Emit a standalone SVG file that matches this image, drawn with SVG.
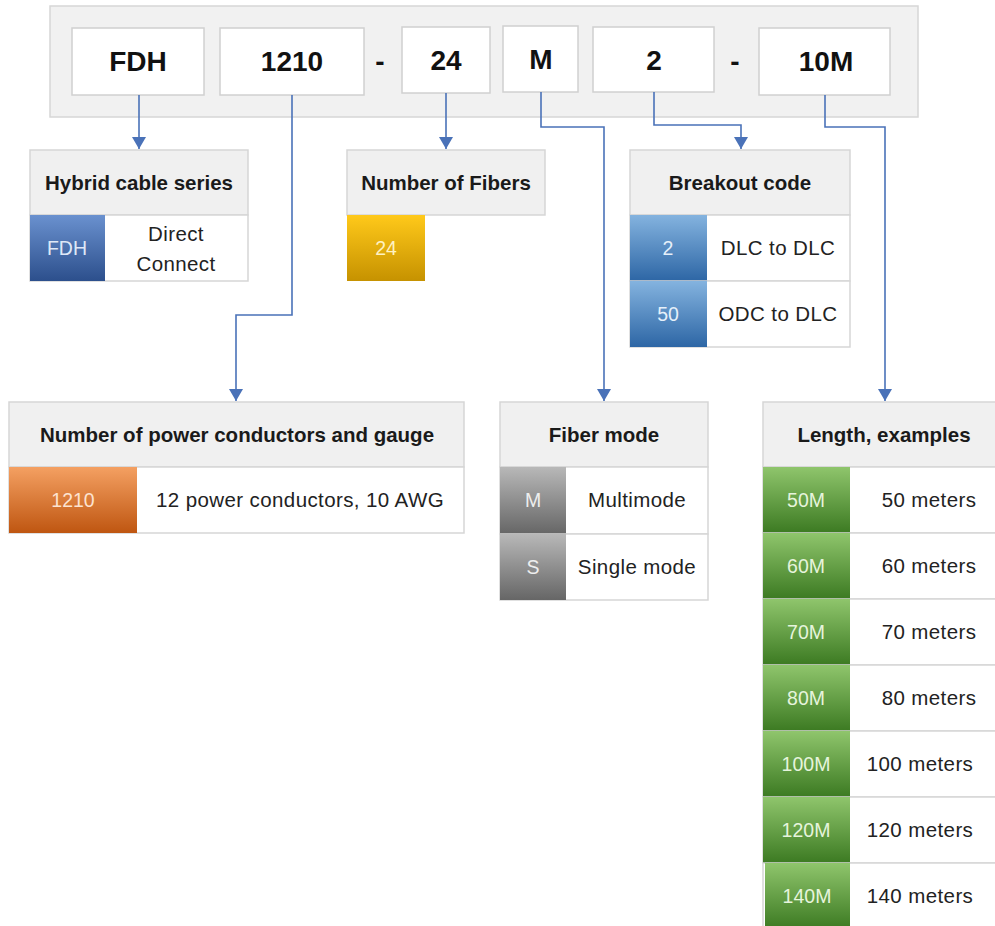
<svg xmlns="http://www.w3.org/2000/svg" width="995" height="926" viewBox="0 0 995 926">
<defs>
<style>
.bg{fill:#ffffff}
.outer{fill:#f1f1f1;stroke:#d6d6d6;stroke-width:1.5}
.code{fill:#ffffff;stroke:#d0d0d0;stroke-width:1.5}
.codet{font-family:"Liberation Sans",Arial,sans-serif;font-weight:bold;font-size:28px;fill:#111;text-anchor:middle}
.hdr{fill:#f0f0f0;stroke:#d6d6d6;stroke-width:1.5}
.hdrt{font-family:"Liberation Sans",Arial,sans-serif;font-weight:bold;font-size:20.5px;fill:#1a1a1a;text-anchor:middle}
.row{fill:#ffffff;stroke:#d6d6d6;stroke-width:1.5}
.rowt{font-family:"Liberation Sans",Arial,sans-serif;font-size:20.5px;letter-spacing:0.4px;fill:#222;text-anchor:middle}
.cellt{font-family:"Liberation Sans",Arial,sans-serif;font-size:19.5px;text-anchor:middle}
.conn{fill:none;stroke:#4a72b8;stroke-width:1.6}
</style>
<linearGradient id="gBlueDark" x1="0" y1="0" x2="0" y2="1"><stop offset="0" stop-color="#6a91cf"/><stop offset="1" stop-color="#2c4f8c"/></linearGradient>
<linearGradient id="gGold" x1="0" y1="0" x2="0" y2="1"><stop offset="0" stop-color="#ffc91a"/><stop offset="1" stop-color="#c69200"/></linearGradient>
<linearGradient id="gBlue" x1="0" y1="0" x2="0" y2="1"><stop offset="0" stop-color="#84b3df"/><stop offset="1" stop-color="#2d66a5"/></linearGradient>
<linearGradient id="gOrange" x1="0" y1="0" x2="0" y2="1"><stop offset="0" stop-color="#f4a062"/><stop offset="1" stop-color="#bf5611"/></linearGradient>
<linearGradient id="gGray" x1="0" y1="0" x2="0" y2="1"><stop offset="0" stop-color="#b8b8b8"/><stop offset="1" stop-color="#666666"/></linearGradient>
<linearGradient id="gGreen" x1="0" y1="0" x2="0" y2="1"><stop offset="0" stop-color="#8fc56c"/><stop offset="1" stop-color="#3c7a22"/></linearGradient>
<marker id="arr" markerUnits="userSpaceOnUse" markerWidth="14" markerHeight="14" refX="12" refY="7" orient="auto">
<path d="M0,0 L12,7 L0,14 Z" fill="#4a72b8"/>
</marker>
</defs>
<rect class="bg" x="0" y="0" width="995" height="926"/>

<g id="code">
<rect class="outer" x="50" y="6" width="868" height="111"/>
<rect class="code" x="72" y="28" width="132" height="67"/>
<text class="codet" x="138" y="71">FDH</text>
<rect class="code" x="220" y="28" width="144" height="67"/>
<text class="codet" x="292" y="71">1210</text>
<text class="codet" x="380" y="71">-</text>
<rect class="code" x="402" y="27" width="88" height="66"/>
<text class="codet" x="446" y="70">24</text>
<rect class="code" x="503" y="26" width="75" height="66"/>
<text class="codet" x="541" y="69">M</text>
<rect class="code" x="593" y="27" width="121" height="65"/>
<text class="codet" x="654" y="70">2</text>
<text class="codet" x="735" y="71">-</text>
<rect class="code" x="759" y="28" width="131" height="67"/>
<text class="codet" x="826" y="71">10M</text>
</g>

<g id="connectors">
<path class="conn" d="M139,95 V149" marker-end="url(#arr)"/>
<path class="conn" d="M292,95 V315 H236 V401" marker-end="url(#arr)"/>
<path class="conn" d="M446,93 V149" marker-end="url(#arr)"/>
<path class="conn" d="M541,92 V127 H604 V401" marker-end="url(#arr)"/>
<path class="conn" d="M654,92 V125 H741 V149" marker-end="url(#arr)"/>
<path class="conn" d="M825,95 V127 H885 V401" marker-end="url(#arr)"/>
</g>

<g id="hybrid">
<rect class="hdr" x="30" y="150" width="218" height="65"/>
<text class="hdrt" x="139" y="190">Hybrid cable series</text>
<rect class="row" x="30" y="215" width="218" height="66"/>
<rect x="30" y="215" width="75" height="66" fill="url(#gBlueDark)"/>
<text class="cellt" x="67" y="255" fill="#dfe8f7">FDH</text>
<text class="rowt" x="176" y="241">Direct</text>
<text class="rowt" x="176" y="271">Connect</text>
</g>

<g id="fibers">
<rect class="hdr" x="347" y="150" width="198" height="65"/>
<text class="hdrt" x="446" y="190">Number of Fibers</text>
<rect x="347" y="215" width="78" height="66" fill="url(#gGold)"/>
<text class="cellt" x="386" y="255" fill="#fff2c2">24</text>
</g>

<g id="breakout">
<rect class="hdr" x="630" y="150" width="220" height="65"/>
<text class="hdrt" x="740" y="190">Breakout code</text>
<rect class="row" x="630" y="215" width="220" height="66"/>
<rect x="630" y="215" width="77" height="66" fill="url(#gBlue)"/>
<text class="cellt" x="668" y="255" fill="#e6f0fa">2</text>
<text class="rowt" x="778" y="255">DLC to DLC</text>
<rect class="row" x="630" y="281" width="220" height="66"/>
<rect x="630" y="281" width="77" height="66" fill="url(#gBlue)"/>
<text class="cellt" x="668" y="321" fill="#e6f0fa">50</text>
<text class="rowt" x="778" y="321">ODC to DLC</text>
</g>

<g id="power">
<rect class="hdr" x="9" y="402" width="455" height="65"/>
<text class="hdrt" x="237" y="442">Number of power conductors and gauge</text>
<rect class="row" x="9" y="467" width="455" height="66"/>
<rect x="9" y="467" width="128" height="66" fill="url(#gOrange)"/>
<text class="cellt" x="73" y="507" fill="#fde3d0">1210</text>
<text class="rowt" x="300" y="507">12 power conductors, 10 AWG</text>
</g>

<g id="fibermode">
<rect class="hdr" x="500" y="402" width="208" height="65"/>
<text class="hdrt" x="604" y="442">Fiber mode</text>
<rect class="row" x="500" y="467" width="208" height="67"/>
<rect x="500" y="467" width="66" height="67" fill="url(#gGray)"/>
<text class="cellt" x="533" y="507" fill="#eeeeee">M</text>
<text class="rowt" x="637" y="507">Multimode</text>
<rect class="row" x="500" y="534" width="208" height="66"/>
<rect x="500" y="534" width="66" height="66" fill="url(#gGray)"/>
<text class="cellt" x="533" y="574" fill="#eeeeee">S</text>
<text class="rowt" x="637" y="574">Single mode</text>
</g>

<g id="length">
<rect class="hdr" x="763" y="402" width="242" height="65"/>
<text class="hdrt" x="884" y="442">Length, examples</text>
<rect class="row" x="763" y="467" width="242" height="66"/>
<rect x="763" y="467" width="87" height="66" fill="url(#gGreen)"/>
<text class="cellt" x="806" y="507" fill="#e6f4dc">50M</text>
<text class="rowt" x="929" y="507">50 meters</text>
<rect class="row" x="763" y="533" width="242" height="66"/>
<rect x="763" y="533" width="87" height="66" fill="url(#gGreen)"/>
<text class="cellt" x="806" y="573" fill="#e6f4dc">60M</text>
<text class="rowt" x="929" y="573">60 meters</text>
<rect class="row" x="763" y="599" width="242" height="66"/>
<rect x="763" y="599" width="87" height="66" fill="url(#gGreen)"/>
<text class="cellt" x="806" y="639" fill="#e6f4dc">70M</text>
<text class="rowt" x="929" y="639">70 meters</text>
<rect class="row" x="763" y="665" width="242" height="66"/>
<rect x="763" y="665" width="87" height="66" fill="url(#gGreen)"/>
<text class="cellt" x="806" y="705" fill="#e6f4dc">80M</text>
<text class="rowt" x="929" y="705">80 meters</text>
<rect class="row" x="763" y="731" width="242" height="66"/>
<rect x="763" y="731" width="87" height="66" fill="url(#gGreen)"/>
<text class="cellt" x="806" y="771" fill="#e6f4dc">100M</text>
<text class="rowt" x="920" y="771">100 meters</text>
<rect class="row" x="763" y="797" width="242" height="66"/>
<rect x="763" y="797" width="87" height="66" fill="url(#gGreen)"/>
<text class="cellt" x="806" y="837" fill="#e6f4dc">120M</text>
<text class="rowt" x="920" y="837">120 meters</text>
<rect class="row" x="763" y="863" width="242" height="66"/>
<rect x="765" y="863" width="85" height="66" fill="url(#gGreen)"/>
<text class="cellt" x="807" y="903" fill="#e6f4dc">140M</text>
<text class="rowt" x="920" y="903">140 meters</text>
</g>
</svg>
